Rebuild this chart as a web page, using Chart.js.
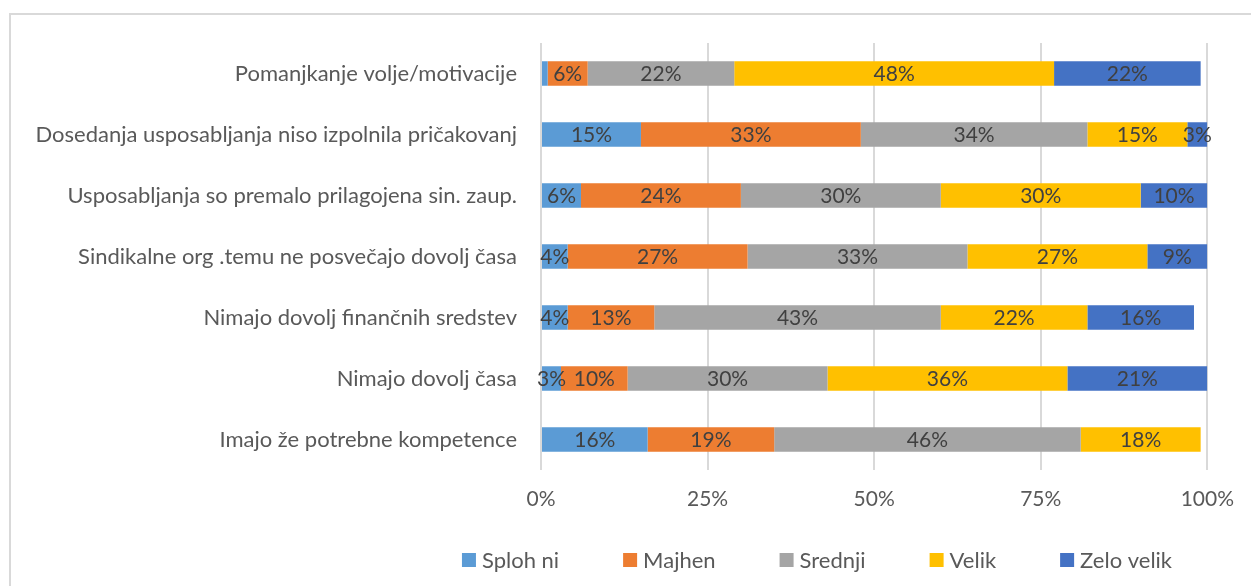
<!DOCTYPE html>
<html>
<head>
<meta charset="utf-8">
<script src="https://cdn.jsdelivr.net/npm/chart.js@4"></script>
<style>
  html, body { margin: 0; padding: 0; background: #fff; overflow: hidden; }
  #frame { position: absolute; left: 9px; top: 13px; width: 1400px; height: 700px; border: 2px solid #d9d9d9; }
  #wrap { position: absolute; left: 0; top: 0; width: 1251px; height: 586px; }
</style>
</head>
<body>
<div id="frame"></div>
<div id="wrap"><canvas id="chart" width="1251" height="586"></canvas></div>
<script>
const categories = [
    'Pomanjkanje volje/motivacije',
    'Dosedanja usposabljanja niso izpolnila pričakovanj',
    'Usposabljanja so premalo prilagojena sin. zaup.',
    'Sindikalne org .temu ne posvečajo dovolj časa',
    'Nimajo dovolj finančnih sredstev',
    'Nimajo dovolj časa',
    'Imajo že potrebne kompetence'
];
const splohNi   = [1, 15, 6, 4, 4, 3, 16];
const majhen    = [6, 33, 24, 27, 13, 10, 19];
const srednji   = [22, 34, 30, 33, 43, 30, 46];
const velik     = [48, 15, 30, 27, 22, 36, 18];
const zeloVelik = [22, 3, 10, 9, 16, 21, 0];
const xTicks = [0, 25, 50, 75, 100];

const FONT = 'Lato';
const TEXT = '#595959';

// value labels in the middle of each segment
const barLabels = {
    id: 'barLabels',
    afterDatasetsDraw(chart) {
        const ctx = chart.ctx;
        ctx.save();
        ctx.font = '21px ' + FONT;
        ctx.fillStyle = '#404040';
        ctx.textAlign = 'center';
        ctx.textBaseline = 'middle';
        chart.data.datasets.forEach((ds, i) => {
            const meta = chart.getDatasetMeta(i);
            meta.data.forEach((bar, j) => {
                const v = ds.data[j];
                if (v < 2) return;
                const p = bar.getProps(['x', 'base', 'y'], true);
                ctx.fillText(v + '%', (p.x + p.base) / 2, p.y + 1);
            });
        });
        ctx.restore();
    }
};

// legend row under the axis, Excel style spacing
const bottomLegend = {
    id: 'bottomLegend',
    afterDraw(chart) {
        const ctx = chart.ctx;
        const box = 14, gap = 6, space = 64, cy = 560, center = 817;
        ctx.save();
        ctx.font = '22px ' + FONT;
        ctx.textBaseline = 'middle';
        const items = chart.data.datasets.map(d => ({
            text: d.label, color: d.backgroundColor, w: ctx.measureText(d.label).width
        }));
        const total = items.reduce((s, it) => s + box + gap + it.w, 0) + space * (items.length - 1);
        let x = center - total / 2;
        items.forEach(it => {
            ctx.fillStyle = it.color;
            ctx.fillRect(x, cy - box / 2, box, box);
            ctx.fillStyle = TEXT;
            ctx.fillText(it.text, x + box + gap, cy + 1);
            x += box + gap + it.w + space;
        });
        ctx.restore();
    }
};

const ds = (label, data, color) => ({
    label: label,
    data: data,
    backgroundColor: color,
    borderWidth: 0,
    barPercentage: 0.4,
    categoryPercentage: 1
});

new Chart(document.getElementById('chart'), {
    type: 'bar',
    data: {
        labels: categories,
        datasets: [
            ds('Sploh ni', splohNi, '#5B9BD5'),
            ds('Majhen', majhen, '#ED7D31'),
            ds('Srednji', srednji, '#A5A5A5'),
            ds('Velik', velik, '#FFC000'),
            ds('Zelo velik', zeloVelik, '#4472C4')
        ]
    },
    options: {
        indexAxis: 'y',
        responsive: false,
        animation: false,
        layout: { padding: { top: 43, right: 43, bottom: 0, left: 0 } },
        plugins: {
            tooltip: { enabled: false },
            legend: { display: false }
        },
        scales: {
            x: {
                stacked: true,
                min: 0,
                max: 100,
                afterBuildTicks: s => { s.ticks = xTicks.map(v => ({ value: v })); },
                afterFit: s => { s.height = 586 - 470; },
                ticks: {
                    padding: 17,
                    color: TEXT,
                    font: { family: FONT, size: 21 },
                    callback: v => v + '%'
                },
                grid: { color: '#d9d9d9', lineWidth: 2, drawTicks: false },
                border: { display: false }
            },
            y: {
                stacked: true,
                afterFit: s => { s.width = 541; },
                ticks: {
                    padding: 24,
                    color: TEXT,
                    font: { family: FONT, size: 22 }
                },
                grid: { display: false, drawTicks: false },
                border: { display: false }
            }
        }
    },
    plugins: [barLabels, bottomLegend]
});
</script>
</body>
</html>
